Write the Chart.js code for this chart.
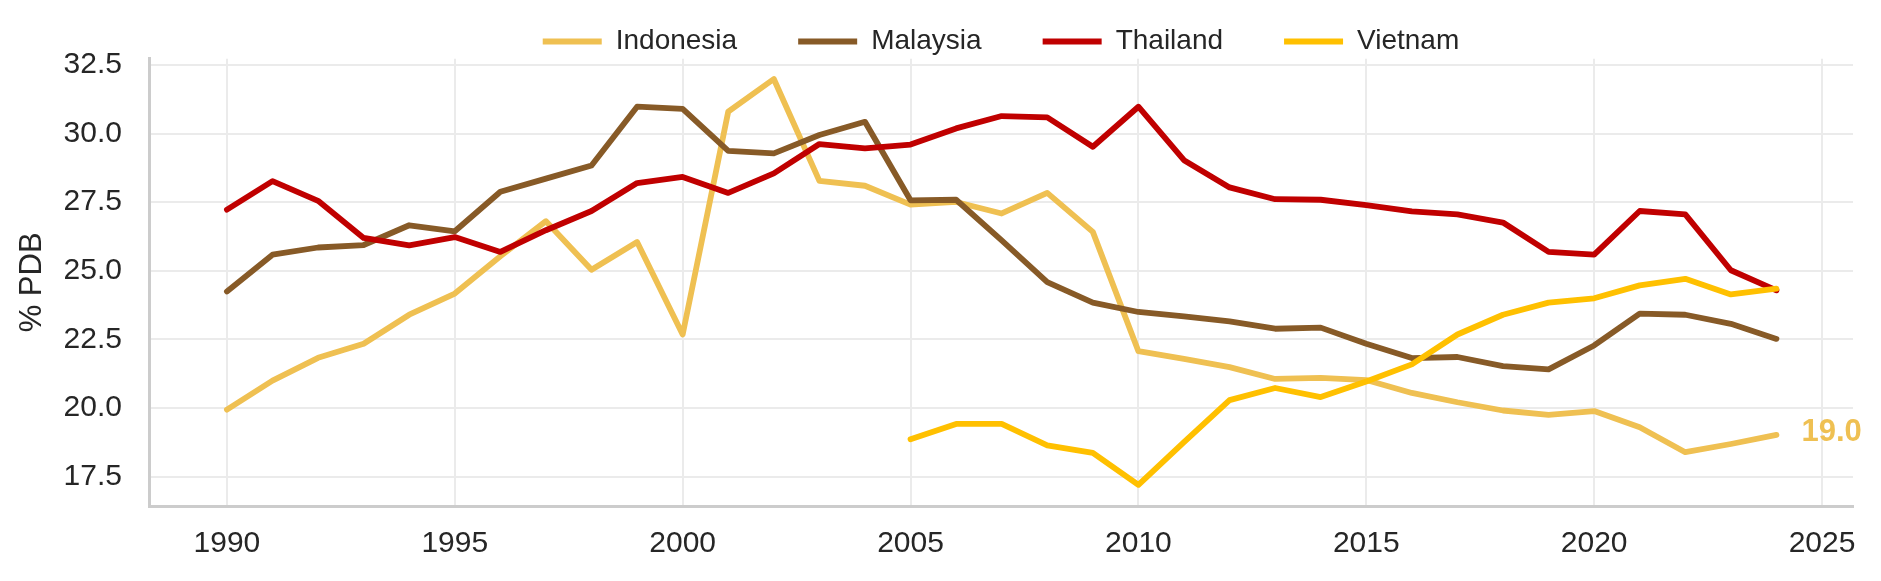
<!DOCTYPE html>
<html>
<head>
<meta charset="utf-8">
<script src="https://cdn.jsdelivr.net/npm/chart.js@4/dist/chart.umd.min.js"></script>
<style>
  html, body { margin: 0; padding: 0; background: #ffffff; }
  #wrap { position: relative; width: 1881px; height: 581px; }
</style>
</head>
<body>
<div id="wrap"><canvas id="pdbChart"></canvas></div>
<script>
"use strict";

// Years on the x axis
var years = [1990, 1991, 1992, 1993, 1994, 1995, 1996, 1997, 1998, 1999,
             2000, 2001, 2002, 2003, 2004, 2005, 2006, 2007, 2008, 2009,
             2010, 2011, 2012, 2013, 2014, 2015, 2016, 2017, 2018, 2019,
             2020, 2021, 2022, 2023, 2024];

// Series values (% PDB)
var indonesia = [19.94, 21.00, 21.83, 22.34, 23.40, 24.17, 25.53, 26.81, 25.04, 26.05,
                 22.68, 30.80, 31.99, 28.28, 28.10, 27.41, 27.51, 27.09, 27.84, 26.42,
                 22.07, 21.79, 21.49, 21.06, 21.10, 21.02, 20.55, 20.21, 19.91, 19.75,
                 19.89, 19.30, 18.39, 18.69, 19.02];
var malaysia = [24.25, 25.59, 25.85, 25.94, 26.66, 26.44, 27.88, 28.36, 28.84, 30.98,
                30.90, 29.37, 29.28, 29.95, 30.43, 27.57, 27.59, 26.11, 24.59, 23.84,
                23.50, 23.34, 23.16, 22.89, 22.93, 22.34, 21.82, 21.86, 21.53, 21.41,
                22.28, 23.44, 23.40, 23.07, 22.52];
var thailand = [27.23, 28.27, 27.55, 26.20, 25.93, 26.23, 25.69, 26.48, 27.18, 28.20,
                28.42, 27.84, 28.55, 29.62, 29.46, 29.60, 30.19, 30.64, 30.59, 29.52,
                30.98, 29.03, 28.04, 27.61, 27.59, 27.39, 27.17, 27.06, 26.76, 25.69,
                25.59, 27.18, 27.06, 25.02, 24.29];
var vietnam = [null, null, null, null, null, null, null, null, null, null,
               null, null, null, null, null, 18.86, 19.42, 19.42, 18.64, 18.37,
               17.20, 18.76, 20.29, 20.73, 20.40, 20.97, 21.59, 22.68, 23.40, 23.84,
               24.00, 24.47, 24.71, 24.14, 24.35];

// Tick labels
var xTicks = [1990, 1995, 2000, 2005, 2010, 2015, 2020, 2025];
var yTicks = [17.5, 20.0, 22.5, 25.0, 27.5, 30.0, 32.5];

var fontFamily = "'Liberation Sans', Arial, Helvetica, sans-serif";
var textColor = "#262626";
var gridColor = "#ebebeb";
var spineColor = "#cccccc";

Chart.defaults.font.family = fontFamily;
Chart.defaults.color = textColor;

function toPoints(values) {
    var pts = [];
    for (let i = 0; i < years.length; i++) {
        if (values[i] !== null) {
            pts.push({ x: years[i], y: values[i] });
        }
    }
    return pts;
}

function makeDataset(label, values, color, order) {
    return {
        label: label,
        data: toPoints(values),
        borderColor: color,
        backgroundColor: color,
        borderWidth: 5.8,
        borderCapStyle: "round",
        borderJoinStyle: "round",
        pointRadius: 0,
        pointHoverRadius: 0,
        tension: 0,
        fill: false,
        clip: false,
        order: order
    };
}

// Value label at the end of the Indonesia line
var endLabelPlugin = {
    id: "endLabel",
    afterDatasetsDraw: function(chart) {
        var meta = chart.getDatasetMeta(0);
        var last = meta.data[meta.data.length - 1];
        var value = indonesia[indonesia.length - 1];
        var ctx = chart.ctx;
        ctx.save();
        ctx.font = "bold 31px " + fontFamily;
        ctx.fillStyle = chart.data.datasets[0].borderColor;
        ctx.textAlign = "left";
        ctx.textBaseline = "middle";
        ctx.fillText(value.toFixed(1), last.x + 25, last.y - 2);
        ctx.restore();
    }
};

var config = {
    type: "line",
    data: {
        datasets: [
            makeDataset("Indonesia", indonesia, "#EFC052", 4),
            makeDataset("Malaysia", malaysia, "#875A27", 3),
            makeDataset("Thailand", thailand, "#C00000", 2),
            makeDataset("Vietnam", vietnam, "#FFC000", 1)
        ]
    },
    options: {
        responsive: true,
        maintainAspectRatio: false,
        animation: false,
        events: [],
        layout: {
            padding: { top: -33.5, left: 0, right: 28, bottom: 0 }
        },
        plugins: {
            legend: {
                display: true,
                position: "top",
                align: "center",
                fullSize: false,
                maxHeight: 92.2,
                labels: {
                    usePointStyle: true,
                    pointStyle: "line",
                    pointStyleWidth: 59,
                    padding: 61,
                    color: textColor,
                    font: { size: 28 },
                    sort: function(a, b) { return a.datasetIndex - b.datasetIndex; }
                }
            },
            tooltip: { enabled: false }
        },
        scales: {
            x: {
                type: "linear",
                min: 1988.29,
                max: 2025.68,
                afterBuildTicks: function(scale) {
                    scale.ticks = xTicks.map(function(v) { return { value: v }; });
                },
                afterFit: function(scale) { scale.height = 75; },
                grid: { color: gridColor, lineWidth: 2, drawTicks: false },
                border: { display: true, color: spineColor, width: 3 },
                ticks: {
                    padding: 20,
                    maxRotation: 0,
                    autoSkip: false,
                    font: { size: 30 },
                    color: textColor,
                    callback: function(v) { return String(v); }
                }
            },
            y: {
                type: "linear",
                min: 16.43,
                max: 32.73,
                afterBuildTicks: function(scale) {
                    scale.ticks = yTicks.map(function(v) { return { value: v }; });
                },
                afterFit: function(scale) { scale.width = 149; },
                grid: { color: gridColor, lineWidth: 2, drawTicks: false },
                border: { display: true, color: spineColor, width: 3 },
                ticks: {
                    padding: 27,
                    autoSkip: false,
                    font: { size: 30 },
                    color: textColor,
                    callback: function(v) { return Number(v).toFixed(1); }
                },
                title: {
                    display: true,
                    text: "% PDB",
                    color: textColor,
                    font: { size: 31 },
                    padding: { top: 14, bottom: 0 }
                }
            }
        }
    },
    plugins: [endLabelPlugin]
};

window.onload = function() {
    var ctx = document.getElementById("pdbChart").getContext("2d");
    new Chart(ctx, config);
};
</script>
</body>
</html>
